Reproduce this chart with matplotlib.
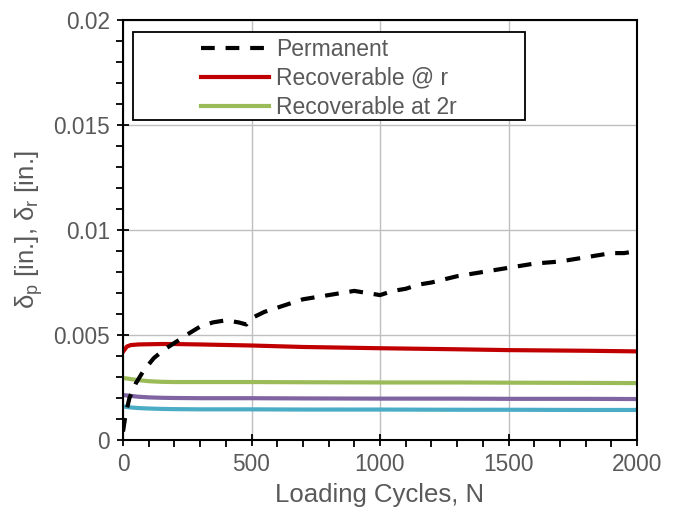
import numpy as np
import matplotlib.pyplot as plt
from matplotlib.patches import Rectangle
from matplotlib.ticker import MultipleLocator

plt.rcParams['font.family'] = ['Liberation Sans', 'DejaVu Sans']

# veriler
n_perm = [0, 10, 25, 50, 80, 120, 160, 210, 260, 300, 350, 400, 450, 480, 500, 550, 600, 650,
          700, 750, 800, 850, 900, 950, 1000, 1050, 1100, 1150, 1200, 1300, 1400, 1500, 1600,
          1700, 1800, 1900, 1950, 2000]
permanent = [0.0004, 0.0012, 0.0020, 0.0027, 0.0033, 0.0039, 0.0043, 0.0047, 0.0051, 0.0054,
             0.0056, 0.0057, 0.0056, 0.0055, 0.0058, 0.0061, 0.0063, 0.0065, 0.0067, 0.0068,
             0.0069, 0.0070, 0.0071, 0.0070, 0.0069, 0.0071, 0.0072, 0.0074, 0.0075, 0.0078,
             0.0080, 0.0082, 0.0084, 0.0085, 0.0087, 0.0089, 0.0089, 0.0090]

n_rec = [0, 15, 30, 60, 100, 150, 200, 300, 500, 700, 1000, 1300, 1500, 1800, 2000]
rec_r = [0.0042, 0.00445, 0.00452, 0.00455, 0.00456, 0.00457, 0.00457, 0.00455, 0.00450,
         0.00443, 0.00437, 0.00432, 0.00428, 0.00425, 0.00422]
rec_2r = [0.00295, 0.00293, 0.00290, 0.00285, 0.00280, 0.00277, 0.00276, 0.00276, 0.00276,
          0.00275, 0.00274, 0.00274, 0.00273, 0.00272, 0.00271]
rec_3 = [0.00214, 0.00212, 0.00210, 0.00206, 0.00203, 0.00201, 0.00200, 0.00199, 0.00199,
         0.00198, 0.00197, 0.00197, 0.00196, 0.00196, 0.00195]
rec_4 = [0.00160, 0.00157, 0.00155, 0.00152, 0.00150, 0.00148, 0.00147, 0.00146, 0.00146,
         0.00145, 0.00145, 0.00144, 0.00144, 0.00143, 0.00143]

gri = '#595959'

fig = plt.figure(figsize=(6.74, 5.19), dpi=100)
ax = fig.add_axes([123/674, 79/519, 514/674, 420/519])

ax.plot(n_rec, rec_4, color='#4BACC6', lw=3)
ax.plot(n_rec, rec_3, color='#8064A2', lw=3)
l3, = ax.plot(n_rec, rec_2r, color='#9BBB59', lw=3)
l2, = ax.plot(n_rec, rec_r, color='#C00000', lw=3)
l1, = ax.plot(n_perm, permanent, color='black', lw=3, dashes=(3.3, 2.6))

ax.set_xlim(0, 2000)
ax.set_ylim(0, 0.02)
ax.xaxis.set_major_locator(MultipleLocator(500))
ax.xaxis.set_minor_locator(MultipleLocator(100))
ax.yaxis.set_minor_locator(MultipleLocator(0.001))
ax.set_yticks([0, 0.005, 0.01, 0.015, 0.02])
ax.set_yticklabels(['0', '0.005', '0.01', '0.015', '0.02'])
ax.grid(True, which='major', color='#bfbfbf', lw=1)
ax.set_axisbelow(True)

ax.tick_params(which='major', direction='inout', length=9, width=1.3, color='black',
               labelcolor=gri, labelsize=16.3, pad=5)
ax.tick_params(which='minor', direction='out', length=5, width=1.3, color='black')
for s in ax.spines.values():
    s.set_linewidth(1.5)
    s.set_color('black')

ax.set_xlabel('Loading Cycles, N', fontsize=18.5, color=gri, labelpad=5)
ax.set_ylabel(r'δ$_\mathregular{p}$ [in.], δ$_\mathregular{r}$ [in.]', fontsize=18.5, color=gri, labelpad=6)

# lejant cercevesi
ax.add_patch(Rectangle((0.0195, 0.762), 0.763, 0.209, transform=ax.transAxes,
                       facecolor='white', edgecolor='black', lw=1.3, zorder=5))
leg = ax.legend([l1, l2, l3], ['Permanent', 'Recoverable @ r', 'Recoverable at 2r'],
                loc='upper left', bbox_to_anchor=(0.120, 0.995), frameon=False,
                fontsize=16.5, handlelength=3.0, handletextpad=0.3, labelspacing=0.25,
                borderpad=0.2)
leg.set_zorder(6)
for t in leg.get_texts():
    t.set_color(gri)

plt.savefig('out.png', dpi=100)
